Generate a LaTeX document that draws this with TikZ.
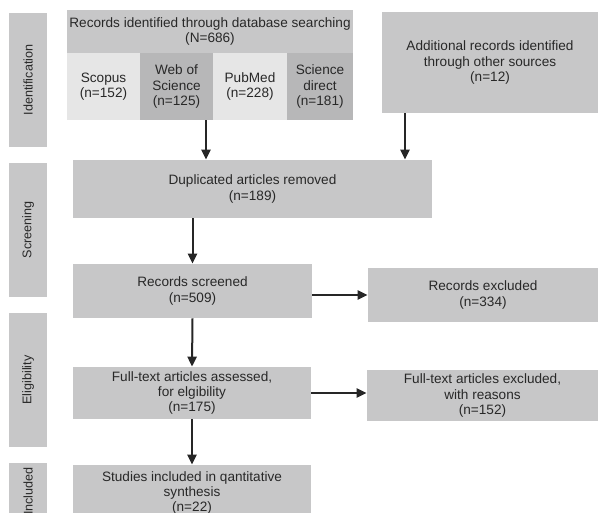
\documentclass[tikz,border=0pt]{standalone}
\usepackage{fontspec}
\setmainfont{Liberation Sans}
\usetikzlibrary{arrows.meta,positioning,calc}
\definecolor{prismabox}{RGB}{199,199,200}
\definecolor{prismalight}{RGB}{230,230,230}
\definecolor{prismadark}{RGB}{183,183,184}
\definecolor{prismatext}{RGB}{40,40,40}
\tikzset{
  prisma box/.style={
    fill=prismabox,
    draw=none,
    inner sep=1pt,
    align=center,
    text=prismatext,
    font=\fontsize{6.8pt}{7.6pt}\selectfont,
  },
  phase bar/.style={
    fill=prismabox,
    draw=none,
    inner sep=0pt,
    rotate=90,
    minimum height=19pt,
    text=prismatext,
    font=\fontsize{6.3pt}{7.4pt}\selectfont,
  },
  prisma arrow/.style={
    -{Triangle[length=5pt,width=4.6pt]},
    line width=1pt,
    draw=black!85,
  },
}

\begin{document}
\begin{tikzpicture}[x=0.5pt,y=-0.5pt]
  \clip (0,0) rectangle (599,513);

  % phases on the left
  \node[phase bar, minimum width=67pt] (ident) at (28,80) {Identification};
  \node[phase bar, minimum width=67pt] (screen) at (28,230) {Screening};
  \node[phase bar, minimum width=67pt] (elig) at (28,380) {Eligibility};
  \node[phase bar, minimum width=28pt] (incl) at (28,491) {Included};

  % identification
  \node[prisma box, minimum width=143pt, minimum height=21.5pt] (db) at (210,31.5)
    {Records identified through database searching\\(N=686)};
  \node[prisma box, fill=prismalight, minimum width=36.5pt, minimum height=33.5pt] (scopus) at (103.5,86.5)
    {Scopus\\(n=152)};
  \node[prisma box, fill=prismadark, minimum width=36.5pt, minimum height=33.5pt] (wos) at (176.5,86.5)
    {Web of\\Science\\(n=125)};
  \node[prisma box, fill=prismalight, minimum width=37pt, minimum height=33.5pt] (pubmed) at (250,86.5)
    {PubMed\\(n=228)};
  \node[prisma box, fill=prismadark, minimum width=33pt, minimum height=33.5pt] (scidir) at (320,86.5)
    {Science\\direct\\(n=181)};
  \node[prisma box, minimum width=108pt, minimum height=50.5pt] (other) at (490,62.5)
    {Additional records identified\\through other sources\\(n=12)};

  % screening
  \node[prisma box, minimum width=179.5pt, minimum height=29pt] (dup) at (252.5,189)
    {Duplicated articles removed\\(n=189)};
  \node[prisma box, minimum width=119.5pt, minimum height=27pt] (screened) at (192.5,291)
    {Records screened\\(n=509)};
  \node[prisma box, minimum width=115pt, minimum height=27pt] (excluded) at (483,295)
    {Records excluded\\(n=334)};

  % eligibility
  \node[prisma box, minimum width=119pt, minimum height=26pt] (assessed) at (192,393)
    {Full-text articles assessed,\\for elgibility\\(n=175)};
  \node[prisma box, minimum width=115.5pt, minimum height=25.5pt] (ftexcluded) at (482.5,395.5)
    {Full-text articles excluded,\\with reasons\\(n=152)};

  % included
  \node[prisma box, minimum width=119pt, minimum height=28pt] (included) at (192,493)
    {Studies included in qantitative\\synthesis\\(n=22)};

  \coordinate (dbout) at ($(wos.south)+(29.5,0)$);
  \coordinate (otherout) at ($(other.south)+(-85,0)$);

  \draw[prisma arrow] (dbout) -- (dbout |- dup.north);
  \draw[prisma arrow] (otherout) -- (otherout |- dup.north);
  \draw[prisma arrow] (dup.south -| screened.north) -- (screened.north);
  \draw[prisma arrow] (screened.east |- excluded.west) -- (excluded.west);
  \draw[prisma arrow] (screened.south) -- (assessed.north);
  \draw[prisma arrow] (assessed.east) -- (assessed.east -| ftexcluded.west);
  \draw[prisma arrow] (assessed.south) -- (included.north);
\end{tikzpicture}
\end{document}
